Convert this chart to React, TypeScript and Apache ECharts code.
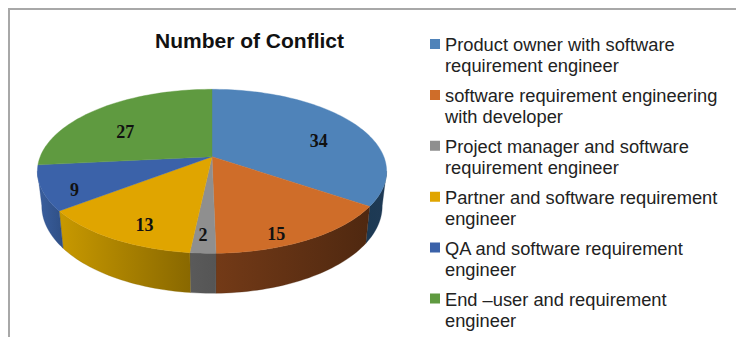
import React, { useEffect, useRef } from "react";
import * as echarts from "echarts";

const categories = [
  "Product owner with software\nrequirement engineer",
  "software requirement engineering\nwith developer",
  "Project manager and software\nrequirement engineer",
  "Partner and software requirement\nengineer",
  "QA and software requirement\nengineer",
  "End –user and requirement\nengineer",
];
const conflicts = [34, 15, 2, 13, 9, 27];
const faceColors = ["#4f83b9", "#cf6d29", "#8f8f8f", "#e0a500", "#3b62a9", "#5f9a40"];
const wallStops = [
  ["#1c3953", "#1f3a55"],
  ["#733a17", "#4f2810"],
  ["#5a5a5a", "#555555"],
  ["#c89900", "#896800"],
  ["#3a5f9f", "#2f4f85"],
  ["#3d6229", "#3d6229"],
];
const labelOffsets = [
  [14, 8],
  [1, 28],
  [-9, 20],
  [-11, 17],
  [-30, 12],
  [-9, 7],
];

// view of the tilted disc
const CX = 212;
const CY = 156.7;
const RX = 171.8;
const RY = 79.4;
const K = 0.178;
const FLOOR_CY = 190.5;
const FLOOR_SX = 0.975;
const FLOOR_SY = 1.064;
const LABEL_R = 0.65;

const rad = (d: number) => (d * Math.PI) / 180;
const total = conflicts.reduce((a, b) => a + b, 0);
const view = (deg: number) => deg + 1.25 * (1 - Math.cos(rad(deg)));
const startOf = (i: number) =>
  (conflicts.slice(0, i).reduce((a, b) => a + b, 0) / total) * 360;

function top(deg: number, f = 1): [number, number] {
  const u = f * Math.sin(rad(deg));
  const v = -f * Math.cos(rad(deg));
  const w = 1 - K * v;
  return [CX + (RX * u) / w, CY + (RY * v) / w];
}
function floor(deg: number): [number, number] {
  const u = Math.sin(rad(deg));
  const v = -Math.cos(rad(deg));
  const w = 1 - K * v;
  return [CX + (FLOOR_SX * RX * u) / w, FLOOR_CY + (FLOOR_SY * RY * v) / w];
}
function arc(a: number, b: number, fn: (d: number) => [number, number]) {
  const n = Math.max(2, Math.ceil((b - a) / 1.5));
  const pts: [number, number][] = [];
  for (let i = 0; i <= n; i++) pts.push(fn(a + ((b - a) * i) / n));
  return pts;
}

function renderWall(params: any) {
  const i = params.dataIndex;
  const a = Math.max(view(startOf(i)), 100);
  const b = Math.min(view(startOf(i + 1)), 260);
  if (b <= a) return { type: "group", children: [] };
  const upper = arc(a, b, (d) => top(d));
  const lower = arc(a, b, floor);
  const pts = upper.concat(lower.reverse());
  const xs = pts.map((p) => p[0]);
  const fill = new echarts.graphic.LinearGradient(
    Math.min(...xs), 0, Math.max(...xs), 0,
    [
      { offset: 0, color: wallStops[i][0] },
      { offset: 1, color: wallStops[i][1] },
    ],
    true,
  );
  return {
    type: "polygon",
    shape: { points: pts },
    style: { fill, stroke: wallStops[i][1], lineWidth: 0.3 },
    silent: true,
  };
}

function sliceSeries(i: number) {
  return {
    type: "custom",
    name: categories[i],
    coordinateSystem: "none",
    z: 3,
    silent: true,
    itemStyle: { color: faceColors[i] },
    data: [conflicts[i]],
    renderItem: (_p: any, api: any) => {
      const a = view(startOf(i));
      const b = view(startOf(i + 1));
      const mid = (startOf(i) + startOf(i + 1)) / 2;
      const [lx, ly] = top(mid, LABEL_R);
      return {
        type: "group",
        children: [
          {
            type: "polygon",
            shape: { points: [[CX, CY] as [number, number]].concat(arc(a, b, (d) => top(d))) },
            style: { fill: faceColors[i], stroke: faceColors[i], lineWidth: 0.4 },
          },
          {
            type: "text",
            z2: 10,
            style: {
              text: String(api.value(0)),
              x: lx + labelOffsets[i][0],
              y: ly + labelOffsets[i][1],
              align: "center",
              verticalAlign: "middle",
              font: 'bold 18px "Liberation Serif"',
              fill: "#111111",
            },
          },
        ],
      };
    },
  };
}

export default function App() {
  const ref = useRef<HTMLDivElement>(null);
  useEffect(() => {
    const chart = echarts.init(ref.current!, undefined, { renderer: "svg" });
    chart.setOption({
      animation: false,
      backgroundColor: "#ffffff",
      title: {
        text: "Number of Conflict",
        left: 244.5,
        top: 25,
        textAlign: "center",
        textStyle: {
          fontFamily: "Liberation Sans",
          fontWeight: "bold",
          fontSize: 21,
          color: "#111111",
        },
      },
      legend: {
        orient: "vertical",
        left: 430,
        top: 34,
        padding: 0,
        itemGap: 8.9,
        itemWidth: 10,
        itemHeight: 42,
        icon: "path://M0 0L0 0Z M0 5H10V15H0Z M0 42L0 42Z",
        selectedMode: false,
        data: categories,
        textStyle: {
          fontFamily: "Liberation Sans",
          fontSize: 18.3,
          lineHeight: 21,
          color: "#222222",
        },
      },
      graphic: [
        { type: "rect", silent: true, shape: { x: 8, y: 8, width: 728, height: 2 }, style: { fill: "#a8a8a8" } },
        { type: "rect", silent: true, shape: { x: 8, y: 8, width: 2, height: 329 }, style: { fill: "#a8a8a8" } },
      ],
      series: [
        {
          type: "custom",
          name: "walls",
          coordinateSystem: "none",
          z: 2,
          silent: true,
          data: conflicts,
          renderItem: renderWall,
        },
        ...categories.map((_, i) => sliceSeries(i)),
      ],
    });
    return () => chart.dispose();
  }, []);
  return (
    <div
      ref={ref}
      style={{ position: "absolute", left: 0, top: 0, width: 736, height: 337 }}
    />
  );
}
